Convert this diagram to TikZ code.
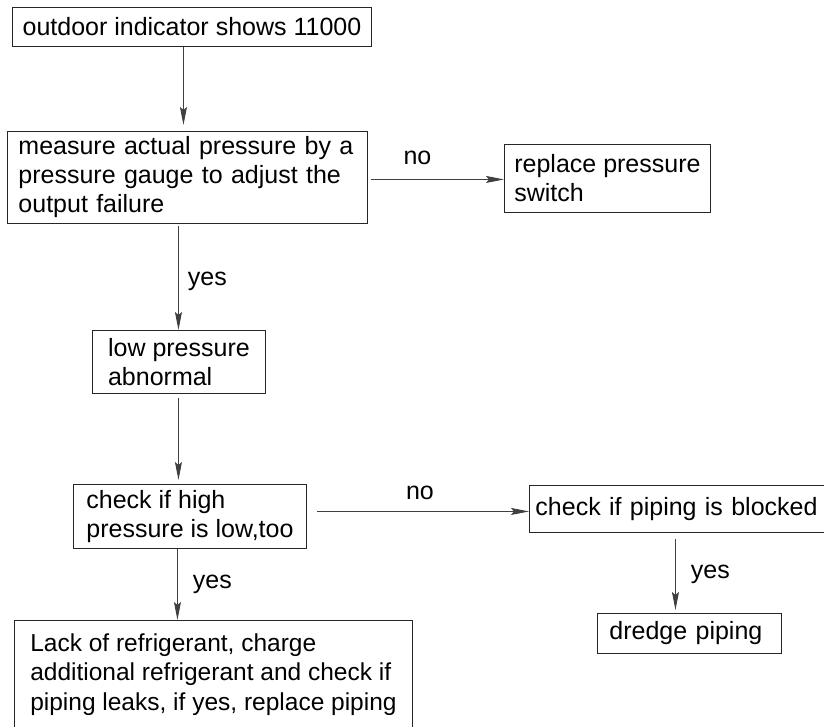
\documentclass[tikz,border=0pt]{standalone}
\usepackage{fontspec}
\setmainfont{Liberation Sans}
\usetikzlibrary{arrows.meta}
\begin{document}
\begin{tikzpicture}[x=1pt,y=-1pt,line width=0.9pt,
  font=\fontsize{25}{29}\selectfont,
  flowbox/.style={draw=black!85, anchor=north west, inner sep=0pt, align=left},
  flowarrow/.style={draw=black!75, -{Stealth[length=18pt,width=7pt,inset=3pt]}},
  flowlabel/.style={inner sep=0pt}]
  \useasboundingbox (0,0) rectangle (824,727);
  \clip (0,0) rectangle (824,727);
  \node[flowbox, minimum width=359pt, minimum height=39pt] (indicator) at (12,7) {outdoor indicator shows 11000};
  \node[flowbox, minimum width=360pt, minimum height=92pt, text width=338pt] (measure) at (7,131) {measure actual pressure by a\\ pressure gauge to adjust the\\ output failure};
  \node[flowbox, minimum width=206pt, minimum height=68pt] (replace) at (504,144) {replace pressure\\ switch};
  \node[flowbox, minimum width=173pt, minimum height=63pt] (lowp) at (92,330) {low pressure\\ abnormal};
  \node[flowbox, minimum width=233pt, minimum height=64pt] (checkhigh) at (73,484) {check if high\\ pressure is low,too};
  \node[flowbox, minimum width=300pt, minimum height=47pt, text width=288pt] (blocked) at (529,485) {check if piping is blocked};
  \node[flowbox, minimum width=184pt, minimum height=40pt, text width=160pt] (dredge) at (597,613) {dredge piping};
  \node[flowbox, minimum width=398pt, minimum height=108pt, font=\fontsize{24.5}{29.5}\selectfont] (lack) at (14,620) {Lack of refrigerant, charge\\ additional refrigerant and check if\\ piping leaks, if yes, replace piping};

  \draw[flowarrow] ([xshift=-8.5pt]indicator.south) -- ([xshift=-4pt,yshift=6pt]measure.north);
  \draw[flowarrow] ([xshift=-9pt,yshift=-2pt]measure.south) -- node[flowlabel, pos=0.53, right=9pt] {yes} ([xshift=-0.5pt]lowp.north);
  \draw[flowarrow] ([xshift=3pt,yshift=-2pt]measure.east) -- node[flowlabel, pos=0.35, above=14pt] {no} ([yshift=-1pt]replace.west);
  \draw[flowarrow] ([xshift=-0.5pt,yshift=-4pt]lowp.south) -- ([xshift=-11.5pt,yshift=4pt]checkhigh.north);
  \draw[flowarrow] ([xshift=-12.5pt]checkhigh.south) -- node[flowlabel, midway, right=15pt] {yes} ([xshift=-36pt]lack.north);
  \draw[flowarrow] ([xshift=10pt,yshift=5pt]checkhigh.east) -- node[flowlabel, pos=0.486, above=11pt] {no} ([yshift=-2.5pt]blocked.west);
  \draw[flowarrow] ([xshift=-4pt,yshift=-6pt]blocked.south) -- node[flowlabel, midway, right=15pt] {yes} ([xshift=-14pt,yshift=3pt]dredge.north);
\end{tikzpicture}
\end{document}
